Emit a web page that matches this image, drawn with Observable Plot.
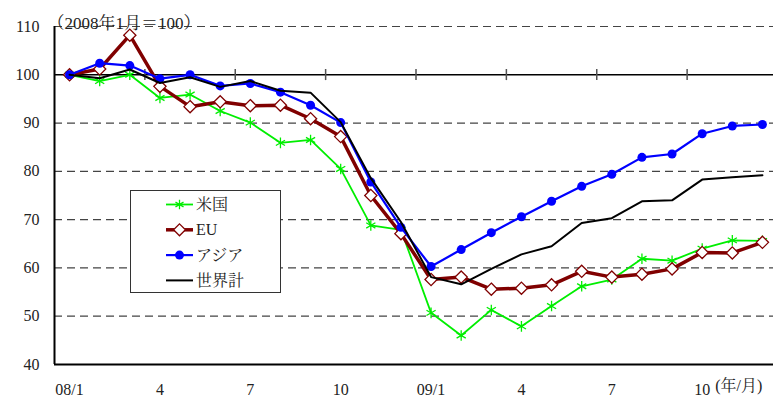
<!DOCTYPE html>
<html>
<head>
<meta charset="utf-8">
<script src="https://cdn.jsdelivr.net/npm/d3@7"></script>
<script src="https://cdn.jsdelivr.net/npm/@observablehq/plot@0.6"></script>
<style>
  html, body { margin: 0; padding: 0; background: #fff; overflow: hidden; }
  #wrap { position: relative; width: 773px; height: 400px; }
  #legend { position: absolute; left: 130px; top: 190px; }
</style>
</head>
<body>
<div id="wrap"></div>
<script>
const months = ["08/1","2","3","4","5","6","7","8","9","10","11","12","09/1","2","3","4","5","6","7","8","9","10","11","12"];
const usa   = [100,98.7,100,95.2,95.9,92.5,90.1,85.9,86.5,80.5,68.8,67.9,50.7,46.0,51.3,47.9,52.1,56.2,57.6,61.9,61.5,64.0,65.7,65.6];
const eu    = [100,101.2,108.2,97.6,93.4,94.4,93.6,93.7,90.9,87.2,75.0,67.1,57.6,58.1,55.6,55.8,56.5,59.3,58.1,58.7,59.8,63.2,63.1,65.3];
const asia  = [100,102.4,101.9,99.2,100,97.7,98.2,96.4,93.7,90.1,77.8,68.4,60.3,63.8,67.3,70.6,73.8,76.9,79.4,82.9,83.6,87.8,89.4,89.7];
const world = [100,99.3,101.1,98.3,99.5,97.5,98.7,96.7,96.3,90.2,78.6,69.5,58.1,56.6,59.8,62.8,64.5,69.3,70.3,73.8,74.0,78.3,78.8,79.2];
const seriesNames = ["米国","EU","アジア","世界計"];
const yTicks = [40,50,60,70,80,90,100,110];
const xTickIdx = [0,3,6,9,12,15,18,21];
const unitLabel = "(年/月)";
const titleText = "（2008年1月＝100）";

const FONT = "'Liberation Serif','Times New Roman','Noto Serif CJK JP','Noto Sans CJK JP',serif";

const toRows = (arr, name) => arr.map((v, i) => ({i, v, name}));
const rUsa = toRows(usa, seriesNames[0]);
const rEu = toRows(eu, seriesNames[1]);
const rAsia = toRows(asia, seriesNames[2]);
const rWorld = toRows(world, seriesNames[3]);

const xDomain = [-0.5, months.length - 0.5];
const boundaries = d3.range(2.5, months.length - 1, 3);
const gridVals = yTicks.filter(v => v !== 40 && v !== 100);

const GREEN = "#00ee00", DRED = "#800000", BLUE = "#0000ff";

const chart = Plot.plot({
  width: 773,
  height: 400,
  marginLeft: 54,
  marginRight: 0,
  marginTop: 26,
  marginBottom: 36,
  style: {fontFamily: FONT, fontSize: "16px", color: "#222", background: "white"},
  x: {type: "linear", domain: xDomain, range: [54, 777], label: null},
  y: {domain: [40, 110], label: null},
  marks: [
    Plot.ruleY(gridVals, {stroke: "#444", strokeWidth: 1.2, strokeDasharray: "8,5"}),
    Plot.ruleY([100], {stroke: "#000", strokeWidth: 1.5}),
    Plot.ruleX(boundaries, {y1: 98.8, y2: 101.1, stroke: "#555", strokeWidth: 1.5}),
    Plot.ruleY([40], {stroke: "#000", strokeWidth: 2}),
    Plot.ruleX([xDomain[0]], {stroke: "#000", strokeWidth: 2}),
    Plot.axisY({ticks: yTicks, tickSize: 0, tickPadding: 15, fontSize: 16, label: null}),
    Plot.axisX({ticks: xTickIdx, tickFormat: i => months[i], tickSize: 0, tickPadding: 19, fontSize: 16, label: null}),
    Plot.text([unitLabel], {x: () => xTickIdx[xTickIdx.length - 1], frameAnchor: "bottom", dy: 26, dx: 13, textAnchor: "start", fontSize: 16}),
    Plot.text([titleText], {frameAnchor: "top-left", dx: -7, dy: -10, textAnchor: "start", fontSize: 17}),
    Plot.line(rUsa, {x: "i", y: "v", stroke: GREEN, strokeWidth: 1.8}),
    Plot.dot(rUsa, {x: "i", y: "v", symbol: "asterisk", stroke: GREEN, strokeWidth: 1.3, r: 5}),
    Plot.line(rEu, {x: "i", y: "v", stroke: DRED, strokeWidth: 3.5}),
    Plot.dot(rEu, {x: "i", y: "v", symbol: "diamond2", stroke: DRED, fill: "white", strokeWidth: 1.3, r: 5.5}),
    Plot.line(rAsia, {x: "i", y: "v", stroke: BLUE, strokeWidth: 2.2}),
    Plot.dot(rAsia, {x: "i", y: "v", symbol: "circle", fill: BLUE, r: 4.5}),
    Plot.line(rWorld, {x: "i", y: "v", stroke: "#000", strokeWidth: 2})
  ]
});

const wrap = document.getElementById("wrap");
wrap.appendChild(chart);

// legend overlay
const legendItems = [
  {name: seriesNames[0], color: GREEN, w: 1.8, sym: "asterisk"},
  {name: seriesNames[1], color: DRED, w: 3.5, sym: "diamond"},
  {name: seriesNames[2], color: BLUE, w: 2.2, sym: "circle"},
  {name: seriesNames[3], color: "#000", w: 2, sym: null}
];
const lg = d3.select(wrap).append("div").attr("id", "legend")
  .append("svg").attr("width", 151).attr("height", 103)
  .style("font-family", FONT);
lg.append("rect").attr("x", 0.5).attr("y", 0.5).attr("width", 150).attr("height", 102)
  .attr("fill", "white").attr("stroke", "#333").attr("stroke-width", 1);
legendItems.forEach((d, k) => {
  const cy = 14.5 + k * 25.3;
  const g = lg.append("g");
  g.append("line").attr("x1", 36).attr("x2", 63).attr("y1", cy).attr("y2", cy)
    .attr("stroke", d.color).attr("stroke-width", d.w);
  if (d.sym === "asterisk") {
    g.append("path").attr("transform", `translate(49.5,${cy})`)
      .attr("d", d3.symbol(d3.symbolAsterisk, 60)()).attr("stroke", d.color).attr("stroke-width", 1.3).attr("fill", "none");
  } else if (d.sym === "diamond") {
    g.append("path").attr("transform", `translate(49.5,${cy})`)
      .attr("d", d3.symbol(d3.symbolDiamond2, 90)()).attr("stroke", d.color).attr("stroke-width", 1.3).attr("fill", "white");
  } else if (d.sym === "circle") {
    g.append("circle").attr("cx", 49.5).attr("cy", cy).attr("r", 4.5).attr("fill", d.color);
  }
  g.append("text").attr("x", 66).attr("y", cy).attr("dy", "0.35em")
    .attr("font-size", 16).attr("fill", "#222").text(d.name);
});
</script>
</body>
</html>
